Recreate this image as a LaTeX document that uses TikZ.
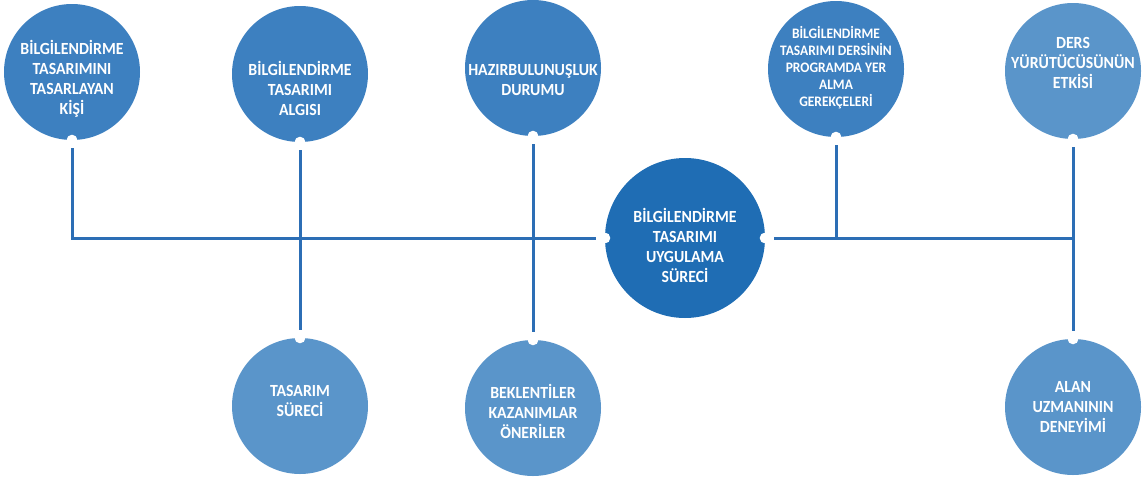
\documentclass[tikz,border=0pt]{standalone}
\usepackage{fontspec}
\setmainfont{Carlito}[FakeStretch=0.93]
\definecolor{topblue}{HTML}{3D80C0}
\definecolor{midblue}{HTML}{1F6DB4}
\definecolor{lightblue}{HTML}{5A95CA}
\definecolor{linkblue}{HTML}{2C6EB5}
\tikzset{
  bubble/.style={circle, minimum size=136pt, inner sep=0pt, draw=none},
  bigbubble/.style={circle, minimum size=160pt, inner sep=0pt, draw=none, fill=midblue},
  txt/.style={text=white, align=center, font=\bfseries\fontsize{17}{20}\selectfont, inner sep=0pt},
  smalltxt/.style={text=white, align=center, font=\bfseries\fontsize{14.5}{17}\selectfont, inner sep=0pt},
  link/.style={draw=linkblue, line width=3pt},
  notch/.style={fill=white}
}
\begin{document}
\begin{tikzpicture}[x=1pt,y=-1pt]
\useasboundingbox (0,0) rectangle (1145,479);
% top circles
\node[bubble, fill=topblue] (c1) at (72,72) {};
\node[bubble, fill=topblue] (c2) at (300,74) {};
\node[bubble, fill=topblue] (c3) at (533,68) {};
\node[bubble, fill=topblue] (c4) at (836,69) {};
\node[bubble, fill=lightblue] (c5) at (1073,71) {};
% centre
\node[bigbubble] (cc) at (685,238) {};
% bottom circles
\node[bubble, fill=lightblue] (b1) at (300,406) {};
\node[bubble, fill=lightblue] (b2) at (533,408) {};
\node[bubble, fill=lightblue] (b3) at (1073,407) {};
% notches
\fill[notch] (c1.south) circle (5.5pt);
\fill[notch] (c2.south) circle (5.5pt);
\fill[notch] (c3.south) circle (5.5pt);
\fill[notch] (c4.south) circle (5.5pt);
\fill[notch] (c5.south) circle (5.5pt);
\fill[notch] (cc.west) circle (5.5pt);
\fill[notch] (cc.east) circle (5.5pt);
\fill[notch] (b1.north) circle (5.5pt);
\fill[notch] (b2.north) circle (5.5pt);
\fill[notch] (b3.north) circle (5.5pt);
% texts
\node[txt] (t1) at (72,79) {BİLGİLENDİRME\\TASARIMINI\\TASARLAYAN\\KİŞİ};
\node[txt] (t2) at (300,88) {BİLGİLENDİRME\\TASARIMI\\ALGISI};
\node[txt] (t3) at (533,80) {HAZIRBULUNUŞLUK\\DURUMU};
\node[smalltxt] (t4) at (836,68) {BİLGİLENDİRME\\TASARIMI DERSİNİN\\PROGRAMDA YER\\ALMA\\GEREKÇELERİ};
\node[txt] (t5) at (1073,63) {DERS\\YÜRÜTÜCÜSÜNÜN\\ETKİSİ};
\node[txt] (tc) at (685,245) {BİLGİLENDİRME\\TASARIMI\\UYGULAMA\\SÜRECİ};
\node[txt] (u1) at (300,401) {TASARIM\\SÜRECİ};
\node[txt] (u2) at (533,411) {BEKLENTİLER\\KAZANIMLAR\\ÖNERİLER};
\node[txt] (u3) at (1073,407) {ALAN\\UZMANININ\\DENEYİMİ};
% junctions
\coordinate (j1) at (72,238);
\coordinate (j4) at (836,238);
\coordinate (j5) at (1073,238);
% connectors
\draw[link] ([yshift=-8pt]c1.south) -- (j1) -- ([xshift=-9pt]cc.west);
\draw[link] ([yshift=-8pt]c2.south) -- ([yshift=8pt]b1.north);
\draw[link] ([yshift=-8pt]c3.south) -- ([yshift=8pt]b2.north);
\draw[link] ([xshift=9pt]cc.east) -- (j5);
\draw[link] ([yshift=-8pt]c4.south) -- (j4);
\draw[link] ([yshift=-8pt]c5.south) -- ([yshift=8pt]b3.north);
\end{tikzpicture}
\end{document}
